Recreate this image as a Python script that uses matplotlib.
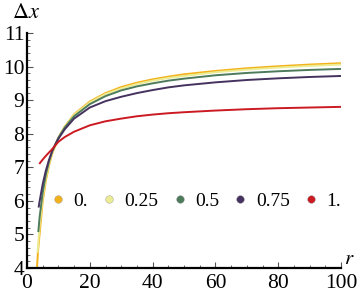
import numpy as np
import matplotlib
matplotlib.use("Agg")
import matplotlib.pyplot as plt
from matplotlib.lines import Line2D
from matplotlib.ticker import MultipleLocator

plt.rcParams['font.family'] = ['Liberation Serif', 'DejaVu Serif']
plt.rcParams['mathtext.fontset'] = 'stix'

# valeurs (r, delta x) pour chaque parametre
labels = ["0.", "0.25", "0.5", "0.75", "1."]
colors = ["#F3B21C", "#ECEC92", "#4D7B5B", "#45325F", "#CB1A22"]

r_a0 = [3.15, 3.5, 4, 5, 6, 7, 8, 10, 12, 15, 20, 25, 30, 35, 40, 45, 50, 60, 70, 80, 90, 100]
dx_a0 = [3.95, 4.5, 5.0, 5.98, 6.6, 7.05, 7.4, 7.88, 8.21, 8.58, 8.96, 9.21, 9.39,
         9.52, 9.62, 9.70, 9.77, 9.87, 9.95, 10.01, 10.06, 10.1]

r_a25 = [3.35, 4, 5, 6, 7, 8, 10, 12, 15, 20, 25, 30, 35, 40, 45, 50, 60, 70, 80, 90, 100]
dx_a25 = [4.45, 5.25, 6.1, 6.68, 7.1, 7.43, 7.88, 8.2, 8.56, 8.93, 9.18, 9.35,
          9.48, 9.58, 9.66, 9.72, 9.83, 9.91, 9.97, 10.02, 10.06]

r_a50 = [3.6, 4, 5, 6, 7, 8, 10, 12, 15, 20, 25, 30, 35, 40, 45, 50, 60, 70, 80, 90, 100]
dx_a50 = [5.07, 5.5, 6.25, 6.78, 7.17, 7.47, 7.88, 8.18, 8.52, 8.88, 9.12, 9.29,
          9.41, 9.5, 9.58, 9.64, 9.74, 9.81, 9.86, 9.9, 9.93]

r_a75 = [3.7, 4, 5, 6, 7, 8, 9, 10, 12, 15, 20, 25, 30, 35, 40, 45, 50, 60, 70, 80, 90, 100]
dx_a75 = [5.8, 5.98, 6.5, 6.9, 7.22, 7.48, 7.68, 7.85, 8.13, 8.45, 8.78, 8.97, 9.1,
          9.21, 9.3, 9.38, 9.44, 9.53, 9.6, 9.65, 9.69, 9.72]

r_a100 = [3.9, 5, 6, 7, 8, 10, 12, 15, 20, 25, 30, 35, 40, 45, 50, 60, 70, 80, 90, 100]
dx_a100 = [7.1, 7.23, 7.34, 7.44, 7.54, 7.76, 7.9, 8.06, 8.25, 8.37, 8.45, 8.52,
           8.57, 8.61, 8.64, 8.69, 8.73, 8.76, 8.78, 8.8]

series = [(r_a0, dx_a0), (r_a25, dx_a25), (r_a50, dx_a50),
          (r_a75, dx_a75), (r_a100, dx_a100)]

fig = plt.figure(figsize=(3.6, 3.0), dpi=100)
ax = fig.add_axes([27/360, 1-268/300, 314/360, 235/300])

for (r, dx), c in zip(series, colors):
    ax.plot(r, dx, color=c, lw=1.4, solid_capstyle='butt', solid_joinstyle='round')

ax.set_xlim(0, 100)
ax.set_ylim(4, 11)

# axes facon Mathematica
for s in ['top', 'right']:
    ax.spines[s].set_visible(False)
for s in ['left', 'bottom']:
    ax.spines[s].set_linewidth(1.6)
ax.xaxis.set_major_locator(MultipleLocator(20))
ax.xaxis.set_minor_locator(MultipleLocator(5))
ax.yaxis.set_major_locator(MultipleLocator(1))
ax.yaxis.set_minor_locator(MultipleLocator(0.2))
ax.tick_params(which='both', direction='in', color='#555555', labelsize=15.5)
ax.tick_params(which='major', length=4.5, width=0.8)
ax.tick_params(which='minor', length=2.5, width=0.6)
ax.tick_params(axis='x', pad=4)
ax.tick_params(axis='y', pad=2)
ax.set_xticks(range(0, 101, 20))
ax.set_xticklabels([str(v) for v in range(0, 101, 20)])

fig.text(12/360, 1-14/300, r'$\Delta x$', fontsize=16, va='center', ha='left')
fig.text(349/360, 1-260/300, r'$r$', fontsize=15, va='center', ha='center')

handles = [Line2D([], [], marker='o', ls='none', ms=5.5, mfc=c,
                  mec='#999999', mew=0.3) for c in colors]
ax.legend(handles, labels, loc='center left', bbox_to_anchor=(0.08, 0.286),
          ncol=5, frameon=False, fontsize=14, handlelength=0.6,
          handletextpad=0.5, columnspacing=0.78, borderpad=0, borderaxespad=0)

fig.savefig("out.png", dpi=100)
